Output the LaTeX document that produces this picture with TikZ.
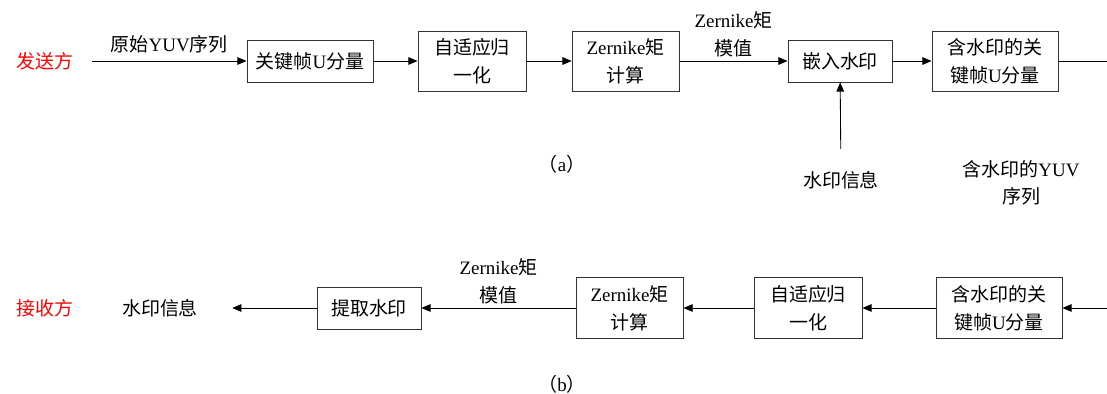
\documentclass[tikz,border=0pt]{standalone}
\usepackage{fontspec}
\setmainfont{Liberation Serif}
\newfontfamily\cjk{Noto Sans CJK SC}
\usetikzlibrary{arrows.meta,positioning}
\tikzset{
  box/.style={draw=black!80, line width=0.6pt, align=center, inner sep=2pt,
              minimum height=1.5cm},
  boxlow/.style={box, minimum height=1.05cm},
  msg/.style={-{Triangle[length=2.3mm,width=1.9mm]}, line width=0.6pt},
  plain/.style={line width=0.6pt},
  mlab/.style={midway, above=1pt, align=center, inner sep=1.5pt},
  party/.style={text=red, inner sep=0pt},
  note/.style={align=center, inner sep=0pt},
}

\begin{document}
\begin{tikzpicture}[font=\fontsize{13.5pt}{19.8pt}\selectfont]
\useasboundingbox (0,0) rectangle (27.675,9.85);

% sender side (a)
\node[party] (send) at (1.125,8.325) {\cjk 发送方};
\coordinate (src) at (2.3,8.325);
\node[boxlow, minimum width=3.15cm] (keya) at (7.75,8.325)
  {{\cjk 关键帧}U{\cjk 分量}};
\node[box, minimum width=2.7cm] (norma) at (11.8,8.325)
  {\cjk 自适应归\\\cjk 一化};
\node[box, minimum width=2.675cm] (zerna) at (15.64,8.325)
  {Zernike{\cjk 矩}\\\cjk 计算};
\node[boxlow, minimum width=2.6cm] (embed) at (21.0,8.325) {\cjk 嵌入水印};
\node[box, minimum width=3.15cm] (wkeya) at (24.875,8.325)
  {\cjk 含水印的关\\{\cjk 键帧}U{\cjk 分量}};
\coordinate (outa) at (27.675,8.325);

\node[note] (infoa) at (21.025,5.35) {\cjk 水印信息};
\node[note] (wyuv) at (25.525,5.28) {{\cjk 含水印的}YUV\\\cjk 序列};
\node[note] (capa) at (14.05,5.75) {{\cjk （}a{\cjk ）}};

\draw[msg] (src) -- node[mlab, above=4pt] {{\cjk 原始}YUV{\cjk 序列}} (keya);
\draw[msg] (keya) -- (norma);
\draw[msg] (norma) -- (zerna);
\draw[msg] (zerna) -- node[mlab] {Zernike{\cjk 矩}\\\cjk 模值} (embed);
\draw[msg] (embed) -- (wkeya);
\draw[plain] (wkeya) -- (outa);
\draw[msg, shorten <=0.55cm] (infoa) -- (embed);

% receiver side (b)
\node[party] (recv) at (1.125,2.15) {\cjk 接收方};
\node[note] (infob) at (4.0,2.15) {\cjk 水印信息};
\node[boxlow, minimum width=2.6cm] (extract) at (9.225,2.15) {\cjk 提取水印};
\node[box, minimum width=2.675cm, minimum height=1.525cm] (zernb) at (15.74,2.15)
  {Zernike{\cjk 矩}\\\cjk 计算};
\node[box, minimum width=2.7cm, minimum height=1.525cm] (normb) at (20.2,2.15)
  {\cjk 自适应归\\\cjk 一化};
\node[box, minimum width=3.15cm, minimum height=1.525cm] (wkeyb) at (24.975,2.15)
  {\cjk 含水印的关\\{\cjk 键帧}U{\cjk 分量}};
\coordinate (inb) at (27.675,2.15);
\node[note] (capb) at (14.05,0.25) {{\cjk （}b{\cjk ）}};

\draw[msg] (inb) -- (wkeyb);
\draw[msg] (wkeyb) -- (normb);
\draw[msg] (normb) -- (zernb);
\draw[msg] (zernb) -- node[mlab] {Zernike{\cjk 矩}\\\cjk 模值} (extract);
\draw[msg, shorten >=0.85cm] (extract) -- (infob);

\end{tikzpicture}
\end{document}
